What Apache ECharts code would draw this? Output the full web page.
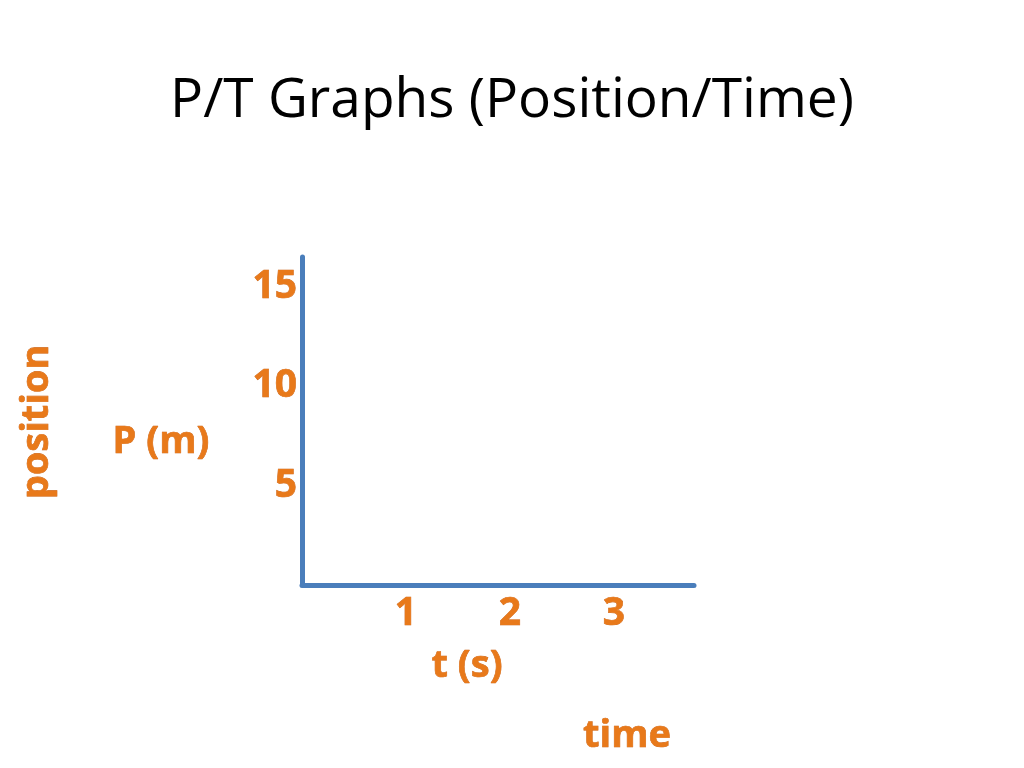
<!DOCTYPE html>
<html>
<head>
<meta charset="utf-8">
<script src="https://cdn.jsdelivr.net/npm/echarts@6/dist/echarts.min.js"></script>
<style>html,body{margin:0;padding:0;background:#fff;}#c{width:1024px;height:768px;}</style>
</head>
<body>
<div id="c"></div>
<script>
var titleText = 'P/T Graphs (Position/Time)';
var xTicks = [1, 2, 3];
var yTicks = [5, 10, 15];
var xName = 't (s)';
var yName = 'P (m)';
var xWord = 'time';
var yWord = 'position';

var orange = '#E8791A';
var orangeDark = '#C65A0C';
var lblFont = 'Open Sans';

function lbl(v, list) { return list.indexOf(v) >= 0 ? String(v) : ''; }

var chart = echarts.init(document.getElementById('c'));
var labelStyle = {
  color: orange, fontFamily: lblFont, fontWeight: 'bold', fontSize: 39,
  textBorderColor: orangeDark, textBorderWidth: 0.6
};
var wordFont = 'bold 38px "Open Sans"';
chart.setOption({
  animation: false,
  backgroundColor: '#ffffff',
  title: {
    text: titleText, left: 'center', top: 69,
    textStyle: { fontFamily: 'Open Sans', fontWeight: 'normal', fontSize: 55, color: '#000' }
  },
  grid: { left: 302, top: 257, width: 392, height: 328 },
  xAxis: {
    type: 'value', min: 0, max: 3.77, interval: 1,
    axisLine: { show: true, onZero: false, lineStyle: { color: '#4A7EBB', width: 5 } },
    axisTick: { show: false }, splitLine: { show: false },
    axisLabel: Object.assign({ margin: 9, showMaxLabel: false, formatter: function (v) { return lbl(v, xTicks); } }, labelStyle)
  },
  yAxis: {
    type: 'value', min: 0, max: 16.5, interval: 5,
    axisLine: { show: true, onZero: false, lineStyle: { color: '#4A7EBB', width: 5 } },
    axisTick: { show: false }, splitLine: { show: false },
    axisLabel: Object.assign({ margin: 5, showMaxLabel: false, formatter: function (v) { return lbl(v, yTicks); } }, labelStyle)
  },
  series: [{ type: 'line', data: [] }],
  graphic: [
    { type: 'text', x: 161, y: 442, style: { text: yName, fill: orange, stroke: orangeDark, lineWidth: 0.6, font: wordFont, align: 'center', verticalAlign: 'middle' } },
    { type: 'text', x: 467, y: 666, style: { text: xName, fill: orange, stroke: orangeDark, lineWidth: 0.6, font: wordFont, align: 'center', verticalAlign: 'middle' } },
    { type: 'text', x: 627, y: 736, style: { text: xWord, fill: orange, stroke: orangeDark, lineWidth: 0.6, font: wordFont, align: 'center', verticalAlign: 'middle' } },
    { type: 'text', x: 37, y: 422, rotation: Math.PI / 2, style: { text: yWord, fill: orange, stroke: orangeDark, lineWidth: 0.6, font: wordFont, align: 'center', verticalAlign: 'middle' } }
  ]
});
</script>
</body>
</html>
